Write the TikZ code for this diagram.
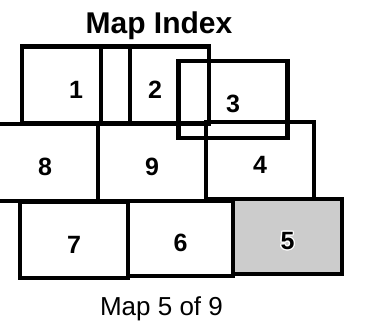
\documentclass[tikz,border=0pt]{standalone}
\usepackage{fontspec}
\setmainfont{Liberation Sans}
\usepackage{contour}
\contourlength{1.2pt}
\usepackage{tikz}
\definecolor{SheetGray}{RGB}{204,204,204}
\tikzset{
  sheet/.style={
    draw=black,
    line width=4.5pt,
    minimum width=108pt,
    minimum height=77pt,
    inner sep=0pt,
    text height=26pt,
    text depth=0pt,
    font=\fontsize{25}{25}\selectfont\bfseries
  },
  current sheet/.style={sheet, fill=SheetGray}
}
\begin{document}
\begin{tikzpicture}[x=1pt,y=-1pt]
\useasboundingbox (0,0) rectangle (370,325);
% title
\node[font=\fontsize{30}{30}\selectfont\bfseries, anchor=base] (title) at (159,33) {Map Index};
% the selected sheet goes first so its fill stays under the others
\node[current sheet, minimum width=109pt, minimum height=75pt] (m5) at (287.5,236.5) {\contour{white}{5}};
% top row
\node[sheet] (m1) at (76,85) {1};
\node[sheet] (m2) at (155,85) {2};
\node[sheet, minimum width=109pt] (m3) at (233,99.5) {3};
% middle row
\node[sheet, minimum width=106pt] (m8) at (45,162.5) {8};
\node[sheet] (m9) at (152,162.5) {9};
\node[sheet] (m4) at (260,160.5) {4};
% bottom row
\node[sheet, minimum height=76pt] (m7) at (74,240) {7};
\node[sheet, minimum width=105pt, minimum height=75pt] (m6) at (180.5,238.5) {6};
% caption
\node[font=\fontsize{26}{26}\selectfont, anchor=base] (caption) at (161.5,315) {Map 5 of 9};
\end{tikzpicture}
\end{document}
